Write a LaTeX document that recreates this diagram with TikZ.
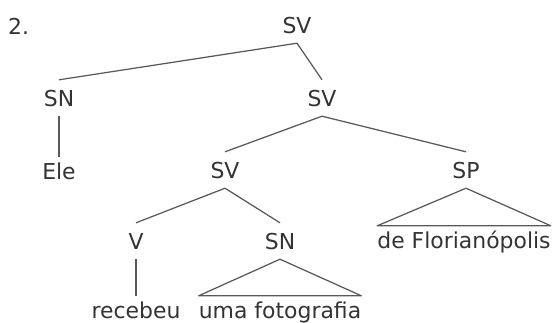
\documentclass[tikz,border=0pt]{standalone}
\usepackage{fontspec}
\setmainfont{DejaVu Sans}

\begin{document}
\begin{tikzpicture}[
    x=1bp, y=-1bp,
    cat/.style={anchor=base, inner xsep=0pt, inner ysep=10bp, text height=16bp, text depth=0pt, font=\fontsize{22}{26}\selectfont, text=black!80},
    word/.style={anchor=base, inner xsep=0pt, inner ysep=5bp, text height=17bp, text depth=0pt, font=\fontsize{22}{26}\selectfont, text=black!80},
    branch/.style={draw, line width=1.25bp, color=black!65, line join=round}
]
\useasboundingbox (0,0) rectangle (555,322);

% Example number
\node[cat, anchor=base west] (num) at (8,34) {2.};

% Define node positions
\node[cat] (sv1) at (297,33) {SV};
\node[cat] (sn1) at (59,106) {SN};
\node[cat] (sv2) at (322,106) {SV};
\node[word] (ele) at (59,179) {Ele};
\node[cat] (sv3) at (225,178) {SV};
\node[cat] (sp) at (466,178) {SP};
\node[cat] (v) at (136,249) {V};
\node[cat] (sn2) at (280,249) {SN};
\node[word] (flor) at (464,248) {de Florianópolis};
\node[word] (receb) at (136,318) {recebeu};
\node[word] (foto) at (280,318) {uma fotografia};

% Branches
\draw[branch] (sv1.south) -- (sn1.north);
\draw[branch] (sv1.south) -- (sv2.north);
\draw[branch] (sn1.south) -- (ele.north);
\draw[branch] (sv2.south) -- (sv3.north);
\draw[branch] (sv2.south) -- (sp.north);
\draw[branch] (sv3.south) -- (v.north);
\draw[branch] (sv3.south) -- (sn2.north);
\draw[branch] (v.south) -- (receb.north);

% Triangles
\draw[branch] (sp.south) -- (flor.north west) -- (flor.north east) -- cycle;
\draw[branch] (sn2.south) -- (foto.north west) -- (foto.north east) -- cycle;

\end{tikzpicture}
\end{document}
